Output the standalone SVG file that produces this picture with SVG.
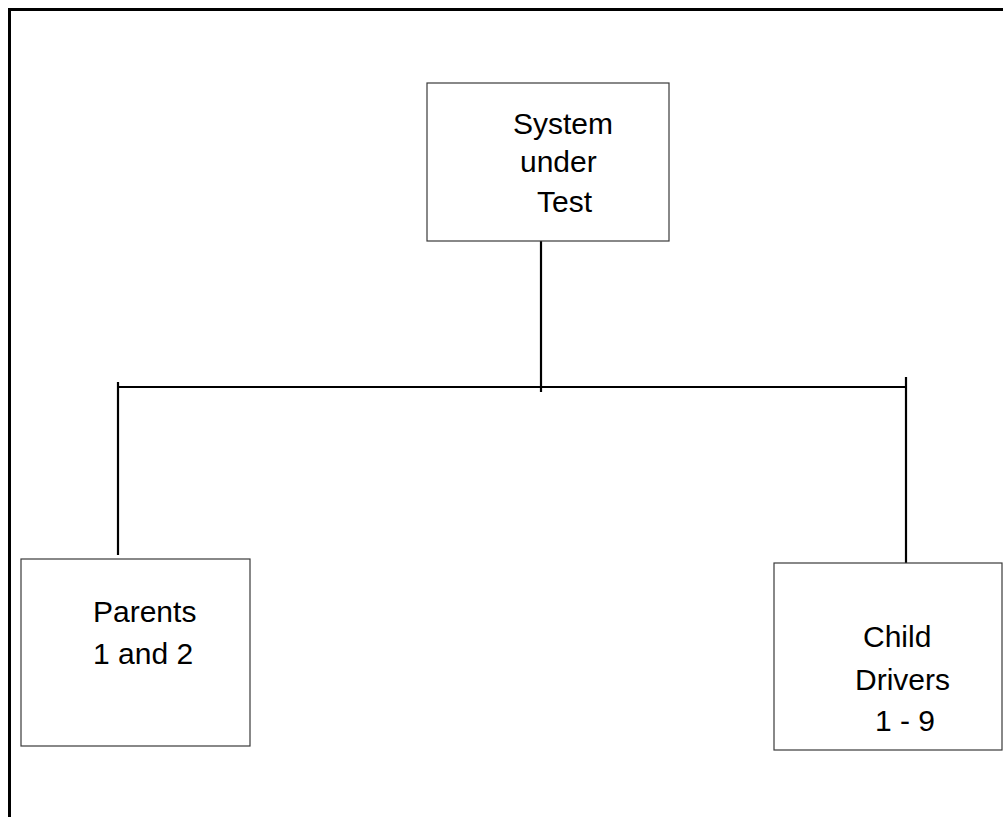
<svg xmlns="http://www.w3.org/2000/svg" width="1003" height="817" viewBox="0 0 1003 817">
<style>
.box{fill:#fff;stroke:#3a3a3a;stroke-width:1.2}
.lbl{font-family:"Liberation Sans",Arial,sans-serif;font-size:30px;fill:#000}
.conn{stroke:#000;stroke-width:2.2;fill:none}
</style>
<rect x="0" y="0" width="1003" height="817" fill="#fff"/>
<path d="M9.5,817 V9.5 H1003" fill="none" stroke="#000" stroke-width="3"/>
<g id="connectors">
<line class="conn" x1="541" y1="234" x2="541" y2="392"/>
<line class="conn" x1="118" y1="387" x2="906" y2="387"/>
<line class="conn" x1="118" y1="382" x2="118" y2="555"/>
<line class="conn" x1="906" y1="377" x2="906" y2="564"/>
</g>
<g id="system-under-test">
<rect class="box" x="427" y="83" width="242" height="158"/>
<text class="lbl" x="513" y="134">System</text>
<text class="lbl" x="520" y="172">under</text>
<text class="lbl" x="537" y="212">Test</text>
</g>
<g id="parents">
<rect class="box" x="21" y="559" width="229" height="187"/>
<text class="lbl" x="93" y="622">Parents</text>
<text class="lbl" x="93" y="664">1 and 2</text>
</g>
<g id="child-drivers">
<rect class="box" x="774" y="563" width="228" height="187"/>
<text class="lbl" x="863" y="647">Child</text>
<text class="lbl" x="855" y="690">Drivers</text>
<text class="lbl" x="875" y="731">1 - 9</text>
</g>
</svg>
